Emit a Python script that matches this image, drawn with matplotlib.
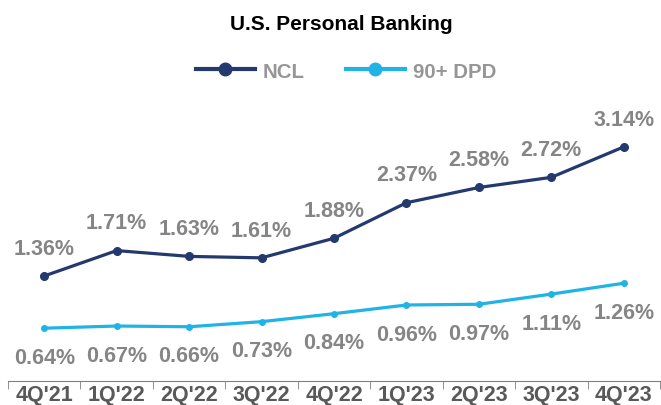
import numpy as np
import matplotlib.pyplot as plt
from matplotlib.lines import Line2D

quarters = ["4Q'21", "1Q'22", "2Q'22", "3Q'22", "4Q'22", "1Q'23", "2Q'23", "3Q'23", "4Q'23"]
ncl = [1.36, 1.71, 1.63, 1.61, 1.88, 2.37, 2.58, 2.72, 3.14]
dpd_90 = [0.64, 0.67, 0.66, 0.73, 0.84, 0.96, 0.97, 1.11, 1.26]

navy = '#243a6e'
sky = '#1fb3e6'
label_grey = '#858585'

plt.rcParams['font.family'] = ['Liberation Sans', 'DejaVu Sans']

fig = plt.figure(figsize=(6.61, 4.06), dpi=100)
ax = fig.add_axes([8 / 661, 24 / 406, 652 / 661, 282 / 406])

x = np.arange(len(quarters))
ax.plot(x, ncl, color=navy, lw=2.3, marker='o', ms=5.5)
ax.plot(x, dpd_90, color=sky, lw=2.3, marker='o', ms=4)

# value labels: NCL above, 90+ DPD below
for xi, v in zip(x, ncl):
    ax.annotate(f'{v:.2f}%', (xi, v), xytext=(0, 20), textcoords='offset points',
                ha='center', va='center', fontsize=15.5, fontweight='bold', color=label_grey)
for xi, v in zip(x, dpd_90):
    ax.annotate(f'{v:.2f}%', (xi, v), xytext=(0, -21), textcoords='offset points',
                ha='center', va='center', fontsize=15.5, fontweight='bold', color=label_grey)

ax.set_xlim(-0.48, 8.46)
ax.set_ylim(-0.088, 3.80)
ax.set_yticks([])
ax.set_xticks(x)
ax.set_xticklabels(quarters, fontsize=15.5, fontweight='bold', color='#595959')
ax.set_xticks(np.arange(-0.5, 9.0, 1.0), minor=True)
ax.tick_params(axis='x', which='major', length=0, pad=2)
ax.tick_params(axis='x', which='minor', length=6, color='#7f7f7f', direction='out')
for side in ['top', 'right', 'left']:
    ax.spines[side].set_visible(False)
ax.spines['bottom'].set_color('#7f7f7f')

fig.text(341 / 661, 1 - 24 / 406, 'U.S. Personal Banking', ha='center', va='center',
         fontsize=15, fontweight='bold', color='black')

handles = [Line2D([], [], color=navy, lw=3, marker='o', ms=9),
           Line2D([], [], color=sky, lw=3, marker='o', ms=9)]
leg = fig.legend(handles, ['NCL', '90+ DPD'], loc='center',
                 bbox_to_anchor=(346 / 661, 1 - 72 / 406), ncol=2, frameon=False,
                 fontsize=14.7, handlelength=2.9, columnspacing=2.0, handletextpad=0.4)
for t in leg.get_texts():
    t.set_color('#969696')
    t.set_fontweight('bold')

fig.savefig('out.png', dpi=100)
